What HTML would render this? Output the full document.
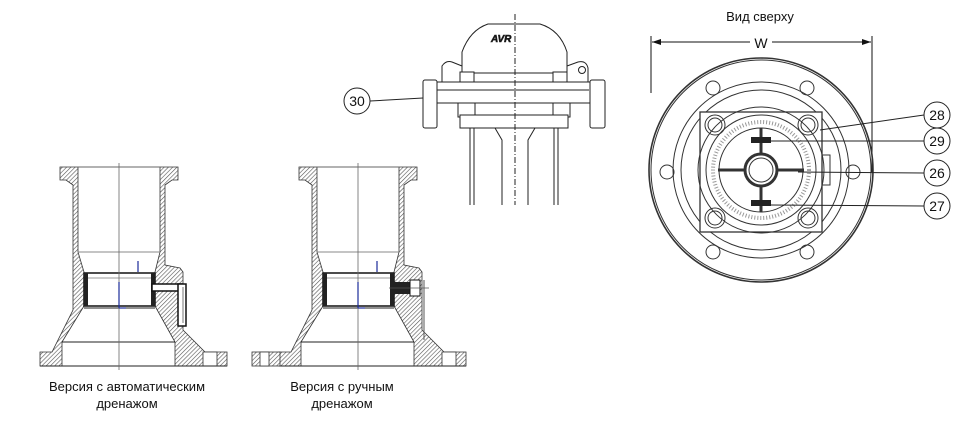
<!DOCTYPE html>
<html><head><meta charset="utf-8"><style>
html,body{margin:0;padding:0;background:#fff;}
svg{display:block;}
text{font-family:"Liberation Sans",sans-serif;fill:#111;}
</style></head><body>
<svg width="960" height="421" viewBox="0 0 960 421" xmlns="http://www.w3.org/2000/svg">
<defs>
<pattern id="h" width="3" height="3" patternUnits="userSpaceOnUse" patternTransform="rotate(45)">
<rect width="3" height="3" fill="#fff"/><line x1="0" y1="0" x2="0" y2="3" stroke="#555" stroke-width="1.2"/>
</pattern>
<g id="body">
<path d="M60,167 L78,167 L78,252 L84,272 L84,306 L62,342 L62,366 L40,366 L40,352 L52,352 L73,310 L73,185 L66,180 L60,180 Z" fill="url(#h)" stroke="#333" stroke-width="0.8"/>
<path d="M160,167 L178,167 L178,180 L172,180 L165,185 L165,265 L180,268 L183,272 L183,330 L205,352 L227,352 L227,366 L175,366 L175,342 L155,306 L155,272 L160,252 Z" fill="url(#h)" stroke="#333" stroke-width="0.8"/>
<rect x="203" y="352" width="14" height="14" fill="#fff" stroke="#333" stroke-width="0.8"/>
<line x1="78" y1="167" x2="160" y2="167" stroke="#666"/>
<line x1="78" y1="252" x2="160" y2="252" stroke="#888"/>
<line x1="62" y1="342" x2="175" y2="342" stroke="#222"/>
<line x1="40" y1="366" x2="227" y2="366" stroke="#222"/>
<rect x="84" y="273" width="71" height="33" fill="#fff" stroke="#111" stroke-width="1.5"/>
<rect x="84" y="273" width="4" height="33" fill="#222"/>
<rect x="151" y="273" width="4" height="33" fill="#222"/>
<line x1="88" y1="278" x2="151" y2="278" stroke="#999"/>
<line x1="84" y1="308" x2="155" y2="308" stroke="#222"/>
<line x1="119" y1="163" x2="119" y2="370" stroke="#666" stroke-width="0.8"/>
<line x1="138" y1="261" x2="138" y2="272" stroke="#1a2a9a" stroke-width="1.2"/>
<line x1="119" y1="282" x2="119" y2="308" stroke="#1a2a9a" stroke-width="1.2"/>
<line x1="119" y1="308" x2="126" y2="308" stroke="#1a2a9a" stroke-width="1.2"/>
</g>
</defs>

<!-- Valve 1 -->
<use href="#body"/>
<rect x="152" y="284" width="30" height="7" fill="#fff" stroke="#111" stroke-width="1.5"/>
<rect x="178" y="284" width="8" height="42" fill="#fff" stroke="#111" stroke-width="1.5"/>
<line x1="183" y1="287" x2="183" y2="323" stroke="#777"/>
<!-- Valve 2 -->
<g transform="translate(239,0)"><use href="#body"/>
<rect x="13" y="352" width="28" height="14" fill="url(#h)" stroke="#333" stroke-width="0.8"/>
<rect x="21" y="352" width="9" height="14" fill="#fff" stroke="#333" stroke-width="0.8"/>
<rect x="155" y="282" width="16" height="12" fill="#222"/>
<rect x="171" y="280" width="10" height="16" fill="#fff" stroke="#111"/>
<line x1="150" y1="288" x2="190" y2="288" stroke="#555" stroke-width="0.7"/>
<line x1="185" y1="280" x2="185" y2="340" stroke="#555"/>
</g>

<!-- Top middle -->
<g stroke="#222" stroke-width="1" fill="#fff">
<path d="M462,73 L462,52 Q470,30 488,24 L540,24 Q560,30 567,52 L567,73 Z"/>
<path d="M442,82 L442,66 Q446,60 452,62 L462,66 L462,82 Z"/>
<path d="M567,82 L567,66 L578,62 Q586,60 588,68 L588,82 Z"/>
<circle cx="582" cy="70" r="3.5"/>
<rect x="460" y="72" width="14" height="10"/><rect x="553" y="72" width="14" height="10"/>
<rect x="433" y="82" width="159" height="21"/>
<line x1="436" y1="90" x2="589" y2="90"/>
<rect x="423" y="80" width="14" height="48" rx="2"/>
<rect x="590" y="80" width="15" height="48" rx="2"/>
<rect x="458" y="103" width="17" height="14"/><rect x="553" y="103" width="17" height="14"/>
<rect x="460" y="115" width="108" height="13"/>
<line x1="470" y1="128" x2="470" y2="205"/>
<line x1="558" y1="128" x2="558" y2="205"/>
<line x1="474" y1="128" x2="474" y2="205"/>
<line x1="554" y1="128" x2="554" y2="205"/>
<path d="M495,128 L502,140 L502,205 M535,128 L528,140 L528,205" fill="none"/>
</g>
<text x="491" y="42" font-size="10" font-weight="bold" font-style="italic" fill="#fff" stroke="#222" stroke-width="0.6">AVR</text>
<line x1="515" y1="14" x2="515" y2="205" stroke="#222" stroke-dasharray="6,2,1,2"/>
<line x1="370" y1="101" x2="423" y2="98" stroke="#222"/>
<circle cx="357" cy="101" r="13" fill="#fff" stroke="#222"/>
<text x="357" y="106" font-size="14" text-anchor="middle">30</text>

<!-- Top view -->
<text x="760" y="21" font-size="13" text-anchor="middle">Вид сверху</text>
<line x1="651" y1="36" x2="651" y2="93" stroke="#111"/>
<line x1="872" y1="36" x2="872" y2="172" stroke="#111"/>
<line x1="652" y1="42" x2="750" y2="42" stroke="#111"/>
<line x1="772" y1="42" x2="871" y2="42" stroke="#111"/>
<path d="M652,42 l9,-3 v6 z M871,42 l-9,-3 v6 z" fill="#111"/>
<text x="761" y="48" font-size="14" text-anchor="middle">W</text>
<g stroke="#333" fill="none">
<circle cx="761" cy="170" r="112" stroke-width="1.6"/>
<circle cx="761" cy="170" r="110"/>
<circle cx="761" cy="170" r="88"/>
<circle cx="761" cy="170" r="80"/>
<rect x="700" y="112" width="122" height="120" fill="#fff" stroke-width="1.3"/>
<circle cx="761" cy="170" r="63"/>
<circle cx="761" cy="170" r="55"/>
<circle cx="761" cy="170" r="48" stroke="#999" stroke-width="4" stroke-dasharray="1,2"/>
<circle cx="761" cy="170" r="42"/>
<circle cx="761" cy="170" r="16" stroke-width="3"/>
<circle cx="761" cy="170" r="12"/>
<line x1="718" y1="170" x2="745" y2="170" stroke-width="3"/>
<line x1="777" y1="170" x2="804" y2="170" stroke-width="3"/>
<line x1="761" y1="128" x2="761" y2="154" stroke-width="3"/>
<line x1="761" y1="186" x2="761" y2="212" stroke-width="3"/>
<rect x="822" y="155" width="8" height="30"/>
<circle cx="715" cy="125" r="10"/><circle cx="808" cy="125" r="10"/>
<circle cx="715" cy="218" r="10"/><circle cx="808" cy="218" r="10"/>
<circle cx="715" cy="125" r="7"/><circle cx="808" cy="125" r="7"/>
<circle cx="715" cy="218" r="7"/><circle cx="808" cy="218" r="7"/>
<circle cx="713" cy="88" r="7"/><circle cx="807" cy="88" r="7"/>
<circle cx="713" cy="252" r="7"/><circle cx="807" cy="252" r="7"/>
<circle cx="667" cy="172" r="7"/><circle cx="853" cy="172" r="7"/>
</g>
<rect x="751" y="137" width="20" height="6" fill="#222"/>
<rect x="751" y="200" width="20" height="6" fill="#222"/>
<g stroke="#222">
<line x1="820" y1="130" x2="924" y2="115"/>
<line x1="770" y1="141" x2="924" y2="141"/>
<line x1="798" y1="172" x2="924" y2="173"/>
<line x1="770" y1="205" x2="924" y2="206"/>
</g>
<g fill="#fff" stroke="#222">
<circle cx="937" cy="115" r="13"/><circle cx="937" cy="141" r="13"/>
<circle cx="937" cy="173" r="13"/><circle cx="937" cy="206" r="13"/>
</g>
<g font-size="14" text-anchor="middle">
<text x="937" y="120">28</text><text x="937" y="146">29</text>
<text x="937" y="178">26</text><text x="937" y="211">27</text>
</g>

<!-- captions -->
<g font-size="13" text-anchor="middle">
<text x="127" y="391">Версия с  автоматическим</text>
<text x="127" y="408">дренажом</text>
<text x="342" y="391">Версия с ручным</text>
<text x="342" y="408">дренажом</text>
</g>
</svg>
</body></html>
